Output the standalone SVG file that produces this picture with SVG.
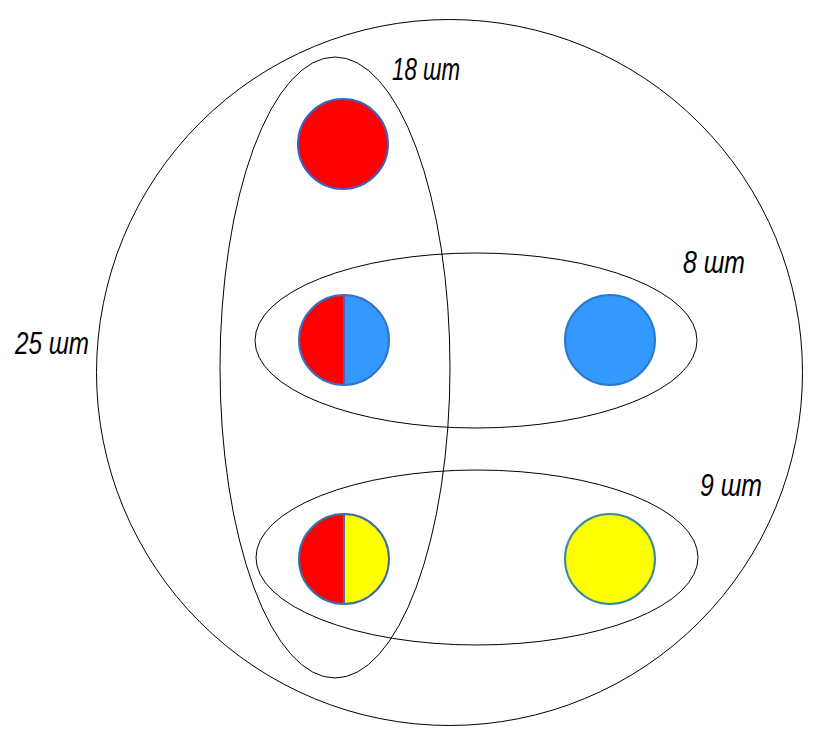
<svg xmlns="http://www.w3.org/2000/svg" width="828" height="742" viewBox="0 0 828 742">
<style>
.set{fill:none;stroke:#000;stroke-width:1}
.lbl{font-family:"Liberation Sans","DejaVu Sans",sans-serif;font-style:italic;font-size:31px;fill:#000}
.red{fill:#ff0000}
.blue{fill:#3399ff}
.yel{fill:#ffff00}
.rim{fill:none;stroke-width:2}
</style>
<rect width="828" height="742" fill="#fff"/>
<g id="connectors"></g>
<g id="set-all"><circle class="set" cx="449.5" cy="372.5" r="353"/><text class="lbl" x="15" y="354" textLength="74" lengthAdjust="spacingAndGlyphs">25 шт</text></g>
<g id="set-red"><ellipse class="set" cx="335" cy="367.5" rx="115" ry="310.5"/><text class="lbl" x="392" y="80" textLength="68" lengthAdjust="spacingAndGlyphs">18 шт</text></g>
<g id="set-blue"><ellipse class="set" cx="476" cy="340.5" rx="221" ry="87.5"/><text class="lbl" x="683" y="273" textLength="62" lengthAdjust="spacingAndGlyphs">8 шт</text></g>
<g id="set-yellow"><ellipse class="set" cx="477" cy="557.5" rx="221" ry="87.5"/><text class="lbl" x="700" y="496" textLength="62" lengthAdjust="spacingAndGlyphs">9 шт</text></g>
<g id="ball-red"><circle class="red" cx="343" cy="144" r="45"/><circle class="rim" cx="343" cy="144" r="45" stroke="#4060c0"/></g>
<g id="ball-red-blue"><path class="red" d="M344,295 A45,45 0 0 0 344,385 Z"/><path class="blue" d="M344,295 A45,45 0 0 1 344,385 Z"/><line x1="344" y1="295" x2="344" y2="385" stroke="#5060b0" stroke-width="2"/><circle class="rim" cx="344" cy="340" r="45" stroke="#3a6fc8"/></g>
<g id="ball-blue"><circle class="blue" cx="610" cy="340" r="45"/><circle class="rim" cx="610" cy="340" r="45" stroke="#2a7acc"/></g>
<g id="ball-red-yellow"><path class="red" d="M344,514 A45,45 0 0 0 344,604 Z"/><path class="yel" d="M344,514 A45,45 0 0 1 344,604 Z"/><line x1="344" y1="514" x2="344" y2="604" stroke="#4a70a0" stroke-width="2"/><circle class="rim" cx="344" cy="559" r="45" stroke="#3a70a8"/></g>
<g id="ball-yellow"><circle class="yel" cx="610" cy="559" r="45"/><circle class="rim" cx="610" cy="559" r="45" stroke="#3a8aa0"/></g>
</svg>
